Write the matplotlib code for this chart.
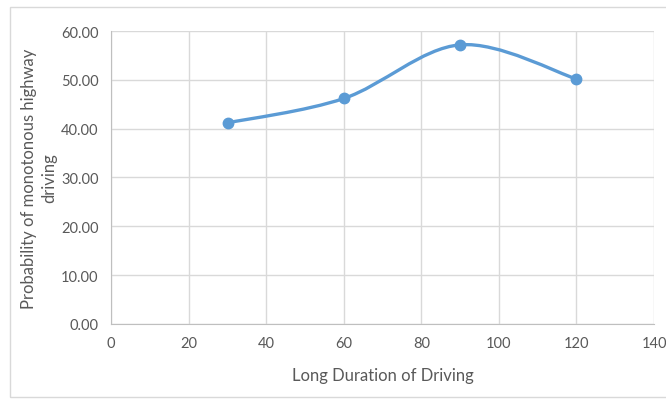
import matplotlib.pyplot as plt
from matplotlib.path import Path
from matplotlib.patches import PathPatch, Rectangle

# data
duration = [30, 60, 90, 120]
probability = [41.2, 46.2, 57.2, 50.2]

x_ticks = [0, 20, 40, 60, 80, 100, 120, 140]
y_ticks = [0, 10, 20, 30, 40, 50, 60]

line_color = '#5B9BD5'
text_color = '#595959'
grid_color = '#d9d9d9'

plt.rcParams['font.family'] = ['Lato', 'DejaVu Sans']

fig = plt.figure(figsize=(6.66, 4.02), dpi=100)
ax = fig.add_axes([0.167, 0.192, 0.815, 0.728])

# Excel style smoothed line: bezier segments through the points
pts = list(zip(duration, probability))
verts = [pts[0]]
codes = [Path.MOVETO]
for i in range(len(pts) - 1):
    p0 = pts[i - 1] if i > 0 else pts[i]
    p1 = pts[i]
    p2 = pts[i + 1]
    p3 = pts[i + 2] if i + 2 < len(pts) else pts[i + 1]
    c1 = (p1[0] + (p2[0] - p0[0]) / 6, p1[1] + (p2[1] - p0[1]) / 6)
    c2 = (p2[0] - (p3[0] - p1[0]) / 6, p2[1] - (p3[1] - p1[1]) / 6)
    verts += [c1, c2, p2]
    codes += [Path.CURVE4] * 3
ax.add_patch(PathPatch(Path(verts, codes), facecolor='none',
                       edgecolor=line_color, lw=2.4, zorder=3))
ax.plot(duration, probability, 'o', color=line_color, ms=7.5, zorder=4)

ax.set_xlim(0, 140)
ax.set_ylim(0, 60)
ax.set_xticks(x_ticks)
ax.set_yticks(y_ticks)
ax.set_yticklabels(['%.2f' % v for v in y_ticks])
ax.grid(True, color=grid_color, lw=1)
ax.set_axisbelow(True)
for s in ['top', 'right']:
    ax.spines[s].set_visible(False)
ax.spines['left'].set_color('#bfbfbf')
ax.spines['bottom'].set_color('#bfbfbf')
ax.tick_params(length=0, labelsize=10.5, colors=text_color, pad=9)

ax.set_xlabel('Long Duration of Driving', fontsize=12, color=text_color, labelpad=12)
ax.set_ylabel('Probability of monotonous highway\ndriving', fontsize=12,
              color=text_color, labelpad=3, linespacing=1.3)

# chart border
fig.add_artist(Rectangle((0.015, 0.01), 1.2, 0.97, transform=fig.transFigure,
                         fill=False, edgecolor=grid_color, lw=1))

fig.savefig('out.png', dpi=100)
